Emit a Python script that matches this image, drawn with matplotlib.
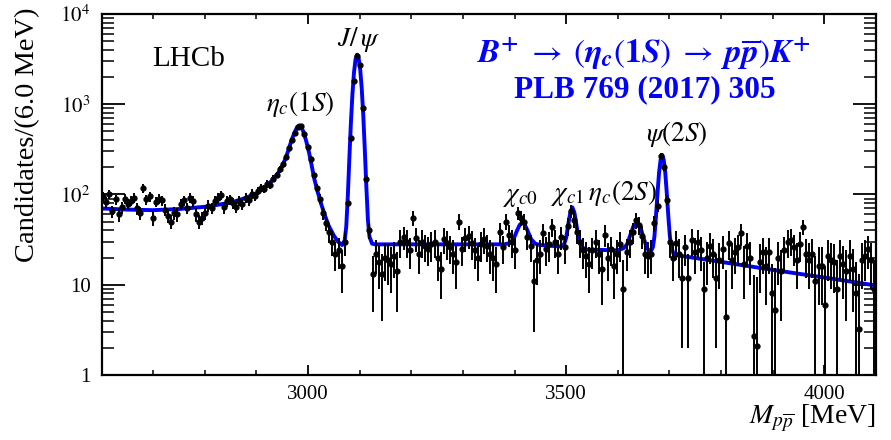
import numpy as np
import matplotlib
matplotlib.use("Agg")
import matplotlib.pyplot as plt
import matplotlib.ticker as mticker

plt.rcParams["font.family"] = "serif"
plt.rcParams["font.serif"] = ["Liberation Serif", "DejaVu Serif"]
plt.rcParams["mathtext.fontset"] = "stix"

# bins of 6 MeV, first centre 2603 MeV
bin_width = 6.0
mass_lo = 2600.0

counts = [
    95, 82, 100, 65, 88, 60, 72, 90, 78, 85,
    92, 70, 62, 118, 88, 95, 55, 83, 90, 86,
    68, 58, 50, 62, 60, 78, 86, 70, 92, 84,
    60, 50, 55, 62, 75, 70, 85, 92, 98, 72,
    84, 88, 80, 72, 85, 78, 92, 86, 102, 95,
    110, 118, 115, 132, 128, 150, 165, 190, 215, 262,
    330, 400, 480, 560, 570, 470, 340, 250, 165, 118,
    90, 62, 48, 38, 30, 22, 24, 16, 30, 80,
    420, 1800, 3400, 2700, 900, 150, 40, 13, 22, 18,
    13, 20, 19, 17, 21, 14, 30, 34, 30, 24,
    55, 33, 22, 30, 27, 25, 28, 30, 20, 15,
    32, 29, 26, 22, 18, 50, 25, 33, 35, 29,
    24, 20, 28, 32, 27, 22, 20, 17, 38, 26,
    50, 36, 30, 24, 62, 55, 50, 34, 27, 11,
    19, 22, 37, 25, 28, 44, 30, 22, 34, 26,
    45, 66, 52, 38, 30, 24, 21, 17, 24, 30,
    22, 15, 36, 20, 25, 16, 22, 28, 9, 23,
    30, 38, 52, 46, 35, 22, 21, 22, 48, 75,
    270, 200, 87, 30, 20, 29, 22, 12, 26, 12,
    31, 23, 30, 24, 9, 20, 27, 22, 12, 19,
    25, 4.4, 29, 19, 23, 26, 37, 17, 27, 20,
    2.7, 2.1, 18, 23, 16, 23, 8, 5.2, 20, 14,
    24, 30, 31, 26, 19, 28, 44, 22, 19, 22,
    11, 16, 16, 6, 21, 19, 18, 9, 21, 17,
    14, 21, 15, 8, 3.2, 19, 21, 25, 19, 9,
]

errors = [
    12, 11, 12, 10, 11, 10, 11, 12, 11, 11,
    12, 11, 10, 13, 11, 12, 10, 11, 12, 11,
    10, 10, 9, 10, 10, 11, 11, 10, 12, 11,
    10, 9, 9, 10, 11, 10, 11, 12, 12, 11,
    11, 11, 11, 10, 11, 10, 11, 11, 12, 11,
    12, 12, 12, 13, 13, 14, 14, 15, 16, 17,
    19, 21, 23, 24, 24, 22, 19, 16, 14, 12,
    11, 10, 9, 9, 9, 8, 9, 8, 9, 10,
    21, 43, 59, 52, 30, 13, 8, 8, 9, 9,
    9, 9, 9, 9, 9, 9, 10, 10, 10, 9,
    10, 10, 9, 10, 9, 9, 10, 10, 9, 8,
    10, 10, 9, 9, 9, 10, 9, 10, 10, 10,
    9, 9, 10, 10, 9, 9, 9, 9, 10, 9,
    10, 10, 10, 9, 10, 10, 10, 10, 9, 8,
    9, 9, 10, 9, 10, 10, 10, 9, 10, 9,
    10, 11, 10, 10, 10, 9, 9, 9, 9, 10,
    9, 9, 10, 9, 9, 9, 9, 10, 10, 9,
    10, 10, 11, 10, 10, 9, 9, 9, 10, 11,
    18, 16, 11, 10, 9, 10, 10, 10, 10, 10,
    10, 10, 10, 10, 9, 10, 10, 10, 10, 10,
    10, 10, 10, 10, 10, 10, 10, 10, 10, 10,
    10, 10, 10, 10, 10, 10, 9, 10, 10, 10,
    10, 10, 10, 10, 10, 10, 8, 10, 10, 10,
    10, 10, 10, 10, 10, 10, 10, 10, 10, 10,
    10, 10, 10, 10, 10, 10, 10, 10, 10, 10,
]

# fit curve
fit_mass = [2600, 2650, 2700, 2750, 2800, 2850, 2880, 2900, 2920, 2935,
            2946, 2955, 2962, 2968, 2974, 2979, 2983, 2987, 2992, 2997,
            3002, 3007, 3012, 3018, 3025, 3032, 3040, 3050, 3058, 3066,
            3071, 3074, 3077, 3080, 3083, 3086, 3089, 3092, 3095, 3098,
            3101, 3104, 3107, 3110, 3113, 3116, 3119, 3124, 3130, 3380,
            3390, 3398, 3405, 3410, 3415, 3420, 3425, 3432, 3440, 3450,
            3490, 3496, 3500, 3504, 3508, 3512, 3516, 3520, 3524, 3530,
            3540, 3600, 3612, 3618, 3624, 3630, 3637, 3644, 3650, 3656,
            3661, 3665, 3668, 3671, 3674, 3677, 3680, 3683, 3686, 3689,
            3692, 3695, 3698, 3701, 3704, 3708, 3712, 3800, 3900, 4000, 4100]
fit_val = [70, 68, 67, 69, 73, 81, 92, 103, 125, 152,
           187, 240, 310, 400, 490, 560, 585, 560, 480, 380,
           290, 210, 150, 110, 80, 60, 45, 35, 30, 27.5,
           31, 44, 95, 250, 620, 1300, 2250, 3150, 3550, 3250,
           2450, 1500, 750, 310, 120, 52, 34, 28.5, 28, 28,
           28.8, 32, 40, 46, 49, 46, 40, 32, 28.5, 27.5,
           26.5, 28, 33, 46, 63, 72, 63, 46, 32, 26,
           24.5, 24, 25.5, 28, 35, 44, 50, 43, 33, 26,
           23.5, 24, 26, 34, 57, 103, 175, 243, 275, 243,
           175, 103, 57, 34, 26, 22, 21.3, 17.9, 14.6, 12, 9.8]

peak_labels = [r"$\eta_c(1S)$", r"$J/\,\psi$", r"$\chi_{c0}$",
               r"$\chi_{c1}\,\eta_c(2S)$", r"$\psi(2S)$"]

counts = np.array(counts, dtype=float)
errors = np.array(errors, dtype=float)
centres = mass_lo + bin_width * (np.arange(len(counts)) + 0.5)
err_lo = np.minimum(errors, counts * 0.999)

fig = plt.figure(figsize=(8.91, 4.40), dpi=100)
ax = fig.add_axes([0.114, 0.148, 0.869, 0.820])

ax.plot(fit_mass, fit_val, color="#0000ff", lw=2.8, zorder=2)
ax.errorbar(centres, counts, yerr=[err_lo, errors], xerr=bin_width / 2,
            fmt="o", color="black", ms=3.5, elinewidth=1.4, capsize=0, zorder=3)

ax.set_yscale("log")
ax.set_xlim(2600, 4100)
ax.set_ylim(1, 1e4)

ax.xaxis.set_major_locator(mticker.FixedLocator([3000, 3500, 4000]))
ax.xaxis.set_minor_locator(mticker.MultipleLocator(100))
ax.yaxis.set_major_locator(mticker.LogLocator(base=10, numticks=10))
ax.yaxis.set_minor_locator(mticker.LogLocator(base=10, subs=np.arange(2, 10), numticks=20))
ax.yaxis.set_minor_formatter(mticker.NullFormatter())


def ylab(v, pos):
    if v < 1.5:
        return "1"
    if v < 15:
        return "10"
    return r"$10^{%d}$" % round(np.log10(v))


ax.yaxis.set_major_formatter(mticker.FuncFormatter(ylab))

ax.tick_params(which="both", direction="in", top=True, right=True, labelsize=15)
ax.tick_params(axis="x", which="major", length=7.5, width=1.3, pad=7)
ax.tick_params(axis="x", which="minor", length=3.8, width=1.1)
ax.tick_params(axis="y", which="major", length=16.5, width=1.3, pad=8)
ax.tick_params(axis="y", which="minor", length=8.5, width=1.1)
for s in ax.spines.values():
    s.set_linewidth(1.6)

# axis titles
fig.text(28 / 891, 1 - 8 / 440, "Candidates/(6.0 MeV)", rotation=90,
         ha="center", va="top", fontsize=20.5)
fig.text(876 / 891, 1 - 418 / 440, r"$M_{p\overline{p}}$ [MeV]",
         ha="right", va="center", fontsize=20)

# annotations
fig.text(189 / 891, 1 - 59 / 440, "LHCb", ha="center", va="center", fontsize=21)
label_pos = [(300, 104), (359, 39), (520, 196), (604, 193), (677, 134)]
for txt, (px, py) in zip(peak_labels, label_pos):
    fig.text(px / 891, 1 - py / 440, txt, ha="center", va="center", fontsize=19.5)

fig.text(644 / 891, 1 - 54 / 440,
         r"$\mathbfit{B}^{\mathbf{+}}\;\rightarrow\;(\mathbfit{\eta}_{\mathbfit{c}}(\mathbf{1}\mathbfit{S})"
         r"\;\rightarrow\;\mathbfit{p}\overline{\mathbfit{p}})\mathbfit{K}^{\mathbf{+}}$",
         ha="center", va="center", fontsize=24, color="#0000ff")
fig.text(645 / 891, 1 - 90 / 440, "PLB 769 (2017) 305", ha="center", va="center",
         fontsize=22.5, fontweight="bold", color="#0000ff")

fig.savefig("out.png", dpi=100)
